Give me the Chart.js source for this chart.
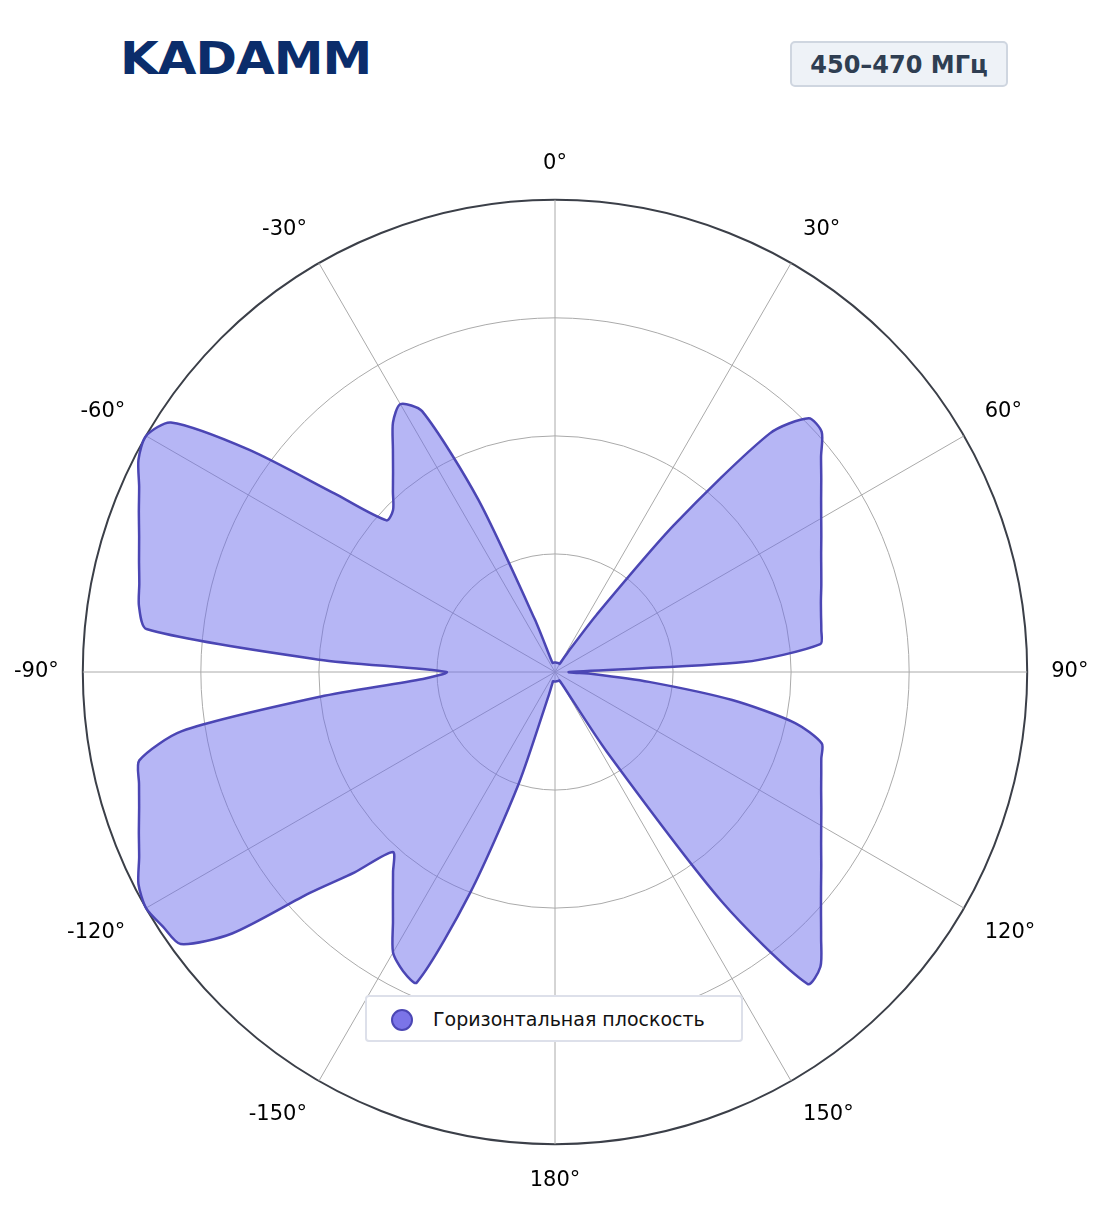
<!DOCTYPE html>
<html><head><meta charset="utf-8">
<script src="https://cdn.jsdelivr.net/npm/chart.js@4"></script>
<style>
body{margin:0;width:1104px;height:1211px;background:#fff;position:relative;font-family:"DejaVu Sans",sans-serif;overflow:hidden}
#wrap{position:absolute;left:0;top:94px;width:1104px;height:1140px}
#logo{position:absolute;left:120px;top:30px;font:bold 50px "DejaVu Sans";color:#0b2d6b;letter-spacing:-1px;transform:scaleY(0.9)}
#badge{position:absolute;left:790px;top:41px;width:218px;height:46px;box-sizing:border-box;border:2px solid #cfd6e0;border-radius:5px;background:#eef2f7;color:#2f3e52;font:bold 24px "DejaVu Sans";text-align:center;line-height:44px}
#legend{position:absolute;left:365px;top:995px;width:378px;height:47px;box-sizing:border-box;border:2px solid #dde0ea;border-radius:4px;background:#fff;font:19px "DejaVu Sans";color:#111;line-height:44px;padding-left:66px}
#legend i{position:absolute;left:24px;top:12px;width:18px;height:18px;border-radius:50%;background:#7b74e8;border:2px solid #4b46b4}
</style></head><body>
<div id="logo">KADAMM</div>
<div id="badge">450–470 МГц</div>
<div id="wrap"><canvas id="c"></canvas></div>
<div id="legend"><i></i>Горизонтальная плоскость</div>
<script>
const angles = [];
for (let a = 0; a < 360; a += 3) angles.push(a);
const tickLabels = {0:'0°',30:'30°',60:'60°',90:'90°',120:'120°',150:'150°',180:'180°',210:'-150°',240:'-120°',270:'-90°',300:'-60°',330:'-30°'};
const gain = [
 0.02,0.02,0.02,0.02,0.02,0.02,0.02,0.02,0.02,0.02,      // 0-27
 0.02,0.05,0.15,0.40,0.68,0.76,0.76,0.725,0.697,0.672,   // 30-57
 0.651,0.633,0.617,0.604,0.593,0.583,0.576,0.571,0.565,0.40, // 60-87
 0.03,0.08,0.20,0.38,0.52,0.585,0.593,0.604,0.617,0.633, // 90-117
 0.651,0.672,0.697,0.725,0.758,0.797,0.84,0.85,0.60,0.20, // 120-147
 0.03,0.02,0.02,0.02,0.02,0.02,0.02,0.02,0.02,0.02,      // 150-177
 0.02,0.02,0.02,0.02,0.02,0.05,0.25,0.50,0.72,0.71,      // 180-207
 0.686,0.63,0.584,0.545,0.513,0.60,0.70,0.88,0.98,0.99,  // 210-237
 1.0,0.99,0.964,0.944,0.926,0.912,0.90,0.80,0.50,0.28,   // 240-267
 0.23,0.50,0.87,0.892,0.90,0.912,0.926,0.944,0.964,0.99, // 270-297
 1.0,0.97,0.80,0.60,0.48,0.485,0.513,0.545,0.584,0.63,   // 300-327
 0.655,0.62,0.40,0.12,0.03,0.02,0.02,0.02,0.02,0.02      // 330-357
];
new Chart(document.getElementById('c'), {
  type:'radar',
  data:{labels:angles, datasets:[{data:gain, fill:true, backgroundColor:'rgba(110,110,235,0.5)', borderColor:'#4b46b4', borderWidth:2.5, pointRadius:0, tension:0.25}]},
  options:{responsive:true, maintainAspectRatio:false, animation:false,
    layout:{padding:{left:11,right:11,top:18,bottom:0}},
    plugins:{legend:{display:false}, tooltip:{enabled:false}},
    scales:{r:{min:0,max:1,
      ticks:{display:false,stepSize:0.25},
      grid:{circular:true, color:c=>(c.tick&&c.tick.value===1)?'#3b3f48':'#aaaaaa', lineWidth:c=>(c.tick&&c.tick.value===1)?2:1},
      angleLines:{color:c=>(angles[c.index]%30===0)?'#aaaaaa':'rgba(0,0,0,0)', lineWidth:1},
      pointLabels:{font:{size:21,family:'DejaVu Sans'},color:'#000',padding:24,
        callback:(v)=>tickLabels[v]||''}
    }}}
});
</script></body></html>
